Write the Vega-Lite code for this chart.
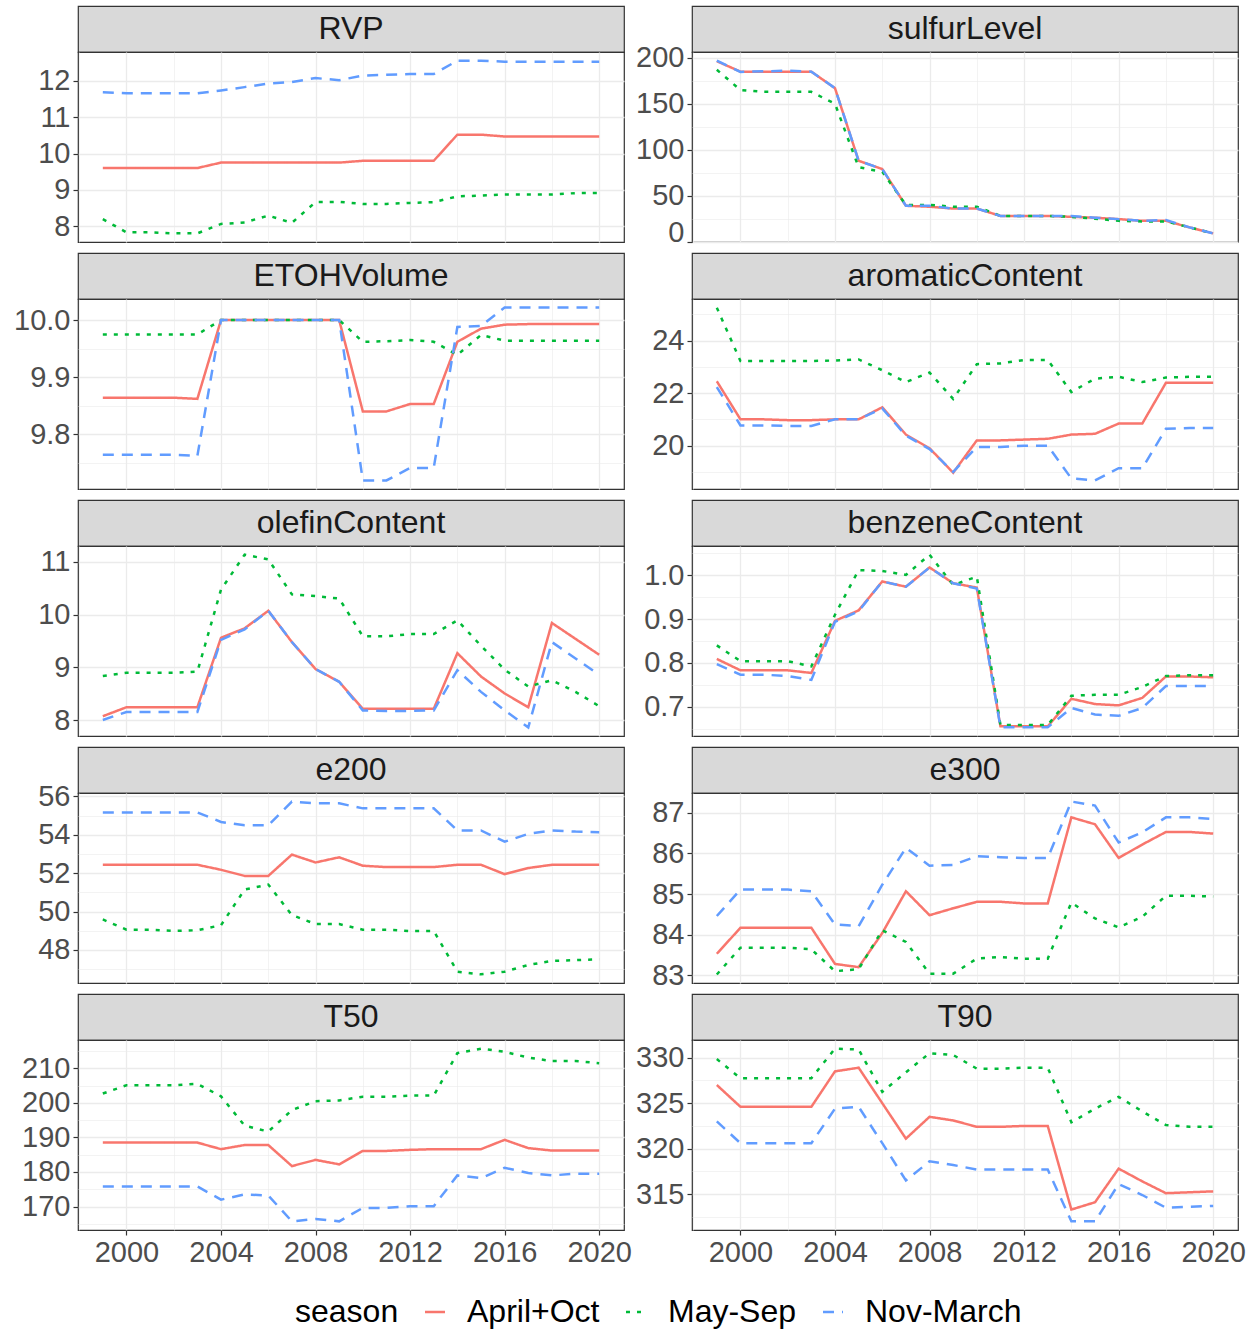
{
"$schema": "https://vega.github.io/schema/vega-lite/v6.json",
"padding": {"left": 12, "top": 5, "right": 10, "bottom": 5},
"background": "white",
"config": {
  "font": "Liberation Sans",
  "view": {"stroke": "#333333", "strokeWidth": 1.2},
  "axis": {"domain": false, "gridColor": "#ebebeb", "labelFontSize": 29, "labelColor": "#4d4d4d", "labelFont": "Liberation Sans", "tickSize": 5, "tickWidth": 1.2, "labelPadding": 3, "labelFlush": false, "labelOverlap": false},
  "axisY": {"minExtent": 65, "maxExtent": 65},
  "legend": {"orient": "none", "legendX": 217, "legendY": 1290, "direction": "horizontal", "titleOrient": "left", "titleFontSize": 32, "titleFontWeight": "normal", "titleColor": "#000000", "titleFont": "Liberation Sans", "labelFontSize": 32, "labelColor": "#000000", "labelFont": "Liberation Sans", "symbolType": "stroke", "symbolSize": 400, "symbolStrokeWidth": 2.5, "labelOffset": 16, "columnPadding": 20, "titlePadding": 20}
},
"datasets": {
"RVP": [
{"season":"April+Oct","year":1999,"value":9.6},{"season":"April+Oct","year":2000,"value":9.6},{"season":"April+Oct","year":2001,"value":9.6},{"season":"April+Oct","year":2002,"value":9.6},{"season":"April+Oct","year":2003,"value":9.6},{"season":"April+Oct","year":2004,"value":9.75},{"season":"April+Oct","year":2005,"value":9.75},{"season":"April+Oct","year":2006,"value":9.75},{"season":"April+Oct","year":2007,"value":9.75},{"season":"April+Oct","year":2008,"value":9.75},{"season":"April+Oct","year":2009,"value":9.75},{"season":"April+Oct","year":2010,"value":9.8},{"season":"April+Oct","year":2011,"value":9.8},{"season":"April+Oct","year":2012,"value":9.8},{"season":"April+Oct","year":2013,"value":9.8},{"season":"April+Oct","year":2014,"value":10.52},{"season":"April+Oct","year":2015,"value":10.52},{"season":"April+Oct","year":2016,"value":10.47},{"season":"April+Oct","year":2017,"value":10.47},{"season":"April+Oct","year":2018,"value":10.47},{"season":"April+Oct","year":2019,"value":10.47},{"season":"April+Oct","year":2020,"value":10.47},
{"season":"May-Sep","year":1999,"value":8.19},{"season":"May-Sep","year":2000,"value":7.83},{"season":"May-Sep","year":2001,"value":7.83},{"season":"May-Sep","year":2002,"value":7.8},{"season":"May-Sep","year":2003,"value":7.8},{"season":"May-Sep","year":2004,"value":8.06},{"season":"May-Sep","year":2005,"value":8.1},{"season":"May-Sep","year":2006,"value":8.29},{"season":"May-Sep","year":2007,"value":8.09},{"season":"May-Sep","year":2008,"value":8.66},{"season":"May-Sep","year":2009,"value":8.67},{"season":"May-Sep","year":2010,"value":8.61},{"season":"May-Sep","year":2011,"value":8.61},{"season":"May-Sep","year":2012,"value":8.64},{"season":"May-Sep","year":2013,"value":8.66},{"season":"May-Sep","year":2014,"value":8.82},{"season":"May-Sep","year":2015,"value":8.84},{"season":"May-Sep","year":2016,"value":8.87},{"season":"May-Sep","year":2017,"value":8.87},{"season":"May-Sep","year":2018,"value":8.87},{"season":"May-Sep","year":2019,"value":8.91},{"season":"May-Sep","year":2020,"value":8.91},
{"season":"Nov-March","year":1999,"value":11.69},{"season":"Nov-March","year":2000,"value":11.66},{"season":"Nov-March","year":2001,"value":11.66},{"season":"Nov-March","year":2002,"value":11.66},{"season":"Nov-March","year":2003,"value":11.66},{"season":"Nov-March","year":2004,"value":11.74},{"season":"Nov-March","year":2005,"value":11.83},{"season":"Nov-March","year":2006,"value":11.93},{"season":"Nov-March","year":2007,"value":11.97},{"season":"Nov-March","year":2008,"value":12.08},{"season":"Nov-March","year":2009,"value":12.02},{"season":"Nov-March","year":2010,"value":12.15},{"season":"Nov-March","year":2011,"value":12.17},{"season":"Nov-March","year":2012,"value":12.19},{"season":"Nov-March","year":2013,"value":12.19},{"season":"Nov-March","year":2014,"value":12.56},{"season":"Nov-March","year":2015,"value":12.56},{"season":"Nov-March","year":2016,"value":12.53},{"season":"Nov-March","year":2017,"value":12.53},{"season":"Nov-March","year":2018,"value":12.53},{"season":"Nov-March","year":2019,"value":12.53},{"season":"Nov-March","year":2020,"value":12.53}
],
"sulfurLevel": [
{"season":"April+Oct","year":1999,"value":196.4},{"season":"April+Oct","year":2000,"value":185},{"season":"April+Oct","year":2001,"value":185},{"season":"April+Oct","year":2002,"value":185},{"season":"April+Oct","year":2003,"value":185},{"season":"April+Oct","year":2004,"value":167},{"season":"April+Oct","year":2005,"value":88},{"season":"April+Oct","year":2006,"value":79},{"season":"April+Oct","year":2007,"value":39},{"season":"April+Oct","year":2008,"value":38},{"season":"April+Oct","year":2009,"value":36},{"season":"April+Oct","year":2010,"value":36},{"season":"April+Oct","year":2011,"value":28},{"season":"April+Oct","year":2012,"value":28},{"season":"April+Oct","year":2013,"value":28},{"season":"April+Oct","year":2014,"value":27},{"season":"April+Oct","year":2015,"value":26},{"season":"April+Oct","year":2016,"value":24.5},{"season":"April+Oct","year":2017,"value":22.6},{"season":"April+Oct","year":2018,"value":22.6},{"season":"April+Oct","year":2019,"value":15.5},{"season":"April+Oct","year":2020,"value":9},
{"season":"May-Sep","year":1999,"value":187},{"season":"May-Sep","year":2000,"value":165},{"season":"May-Sep","year":2001,"value":163},{"season":"May-Sep","year":2002,"value":163},{"season":"May-Sep","year":2003,"value":163},{"season":"May-Sep","year":2004,"value":150},{"season":"May-Sep","year":2005,"value":81},{"season":"May-Sep","year":2006,"value":76},{"season":"May-Sep","year":2007,"value":40},{"season":"May-Sep","year":2008,"value":40},{"season":"May-Sep","year":2009,"value":38},{"season":"May-Sep","year":2010,"value":38},{"season":"May-Sep","year":2011,"value":28},{"season":"May-Sep","year":2012,"value":28},{"season":"May-Sep","year":2013,"value":28},{"season":"May-Sep","year":2014,"value":27},{"season":"May-Sep","year":2015,"value":25},{"season":"May-Sep","year":2016,"value":22.6},{"season":"May-Sep","year":2017,"value":22},{"season":"May-Sep","year":2018,"value":22},{"season":"May-Sep","year":2019,"value":15.5},{"season":"May-Sep","year":2020,"value":9},
{"season":"Nov-March","year":1999,"value":197},{"season":"Nov-March","year":2000,"value":184.7},{"season":"Nov-March","year":2001,"value":185.4},{"season":"Nov-March","year":2002,"value":186},{"season":"Nov-March","year":2003,"value":185},{"season":"Nov-March","year":2004,"value":167},{"season":"Nov-March","year":2005,"value":88},{"season":"Nov-March","year":2006,"value":79},{"season":"Nov-March","year":2007,"value":39},{"season":"Nov-March","year":2008,"value":39},{"season":"Nov-March","year":2009,"value":36},{"season":"Nov-March","year":2010,"value":36},{"season":"Nov-March","year":2011,"value":28},{"season":"Nov-March","year":2012,"value":28},{"season":"Nov-March","year":2013,"value":28},{"season":"Nov-March","year":2014,"value":28},{"season":"Nov-March","year":2015,"value":26},{"season":"Nov-March","year":2016,"value":24.5},{"season":"Nov-March","year":2017,"value":22.6},{"season":"Nov-March","year":2018,"value":23.5},{"season":"Nov-March","year":2019,"value":15.5},{"season":"Nov-March","year":2020,"value":9}
],
"ETOHVolume": [
{"season":"April+Oct","year":1999,"value":9.864},{"season":"April+Oct","year":2000,"value":9.864},{"season":"April+Oct","year":2001,"value":9.864},{"season":"April+Oct","year":2002,"value":9.864},{"season":"April+Oct","year":2003,"value":9.862},{"season":"April+Oct","year":2004,"value":10},{"season":"April+Oct","year":2005,"value":10},{"season":"April+Oct","year":2006,"value":10},{"season":"April+Oct","year":2007,"value":10},{"season":"April+Oct","year":2008,"value":10},{"season":"April+Oct","year":2009,"value":10},{"season":"April+Oct","year":2010,"value":9.84},{"season":"April+Oct","year":2011,"value":9.84},{"season":"April+Oct","year":2012,"value":9.853},{"season":"April+Oct","year":2013,"value":9.853},{"season":"April+Oct","year":2014,"value":9.962},{"season":"April+Oct","year":2015,"value":9.985},{"season":"April+Oct","year":2016,"value":9.992},{"season":"April+Oct","year":2017,"value":9.993},{"season":"April+Oct","year":2018,"value":9.993},{"season":"April+Oct","year":2019,"value":9.993},{"season":"April+Oct","year":2020,"value":9.993},
{"season":"May-Sep","year":1999,"value":9.975},{"season":"May-Sep","year":2000,"value":9.975},{"season":"May-Sep","year":2001,"value":9.975},{"season":"May-Sep","year":2002,"value":9.975},{"season":"May-Sep","year":2003,"value":9.975},{"season":"May-Sep","year":2004,"value":10},{"season":"May-Sep","year":2005,"value":10},{"season":"May-Sep","year":2006,"value":10},{"season":"May-Sep","year":2007,"value":10},{"season":"May-Sep","year":2008,"value":10},{"season":"May-Sep","year":2009,"value":10},{"season":"May-Sep","year":2010,"value":9.962},{"season":"May-Sep","year":2011,"value":9.963},{"season":"May-Sep","year":2012,"value":9.965},{"season":"May-Sep","year":2013,"value":9.962},{"season":"May-Sep","year":2014,"value":9.939},{"season":"May-Sep","year":2015,"value":9.974},{"season":"May-Sep","year":2016,"value":9.964},{"season":"May-Sep","year":2017,"value":9.964},{"season":"May-Sep","year":2018,"value":9.964},{"season":"May-Sep","year":2019,"value":9.964},{"season":"May-Sep","year":2020,"value":9.964},
{"season":"Nov-March","year":1999,"value":9.764},{"season":"Nov-March","year":2000,"value":9.764},{"season":"Nov-March","year":2001,"value":9.764},{"season":"Nov-March","year":2002,"value":9.764},{"season":"Nov-March","year":2003,"value":9.762},{"season":"Nov-March","year":2004,"value":10},{"season":"Nov-March","year":2005,"value":10},{"season":"Nov-March","year":2006,"value":10},{"season":"Nov-March","year":2007,"value":10},{"season":"Nov-March","year":2008,"value":10},{"season":"Nov-March","year":2009,"value":10},{"season":"Nov-March","year":2010,"value":9.719},{"season":"Nov-March","year":2011,"value":9.719},{"season":"Nov-March","year":2012,"value":9.741},{"season":"Nov-March","year":2013,"value":9.741},{"season":"Nov-March","year":2014,"value":9.988},{"season":"Nov-March","year":2015,"value":9.99},{"season":"Nov-March","year":2016,"value":10.022},{"season":"Nov-March","year":2017,"value":10.022},{"season":"Nov-March","year":2018,"value":10.022},{"season":"Nov-March","year":2019,"value":10.022},{"season":"Nov-March","year":2020,"value":10.022}
],
"aromaticContent": [
{"season":"April+Oct","year":1999,"value":22.45},{"season":"April+Oct","year":2000,"value":21.0},{"season":"April+Oct","year":2001,"value":21.0},{"season":"April+Oct","year":2002,"value":20.97},{"season":"April+Oct","year":2003,"value":20.97},{"season":"April+Oct","year":2004,"value":21.0},{"season":"April+Oct","year":2005,"value":21.0},{"season":"April+Oct","year":2006,"value":21.46},{"season":"April+Oct","year":2007,"value":20.42},{"season":"April+Oct","year":2008,"value":19.9},{"season":"April+Oct","year":2009,"value":18.97},{"season":"April+Oct","year":2010,"value":20.2},{"season":"April+Oct","year":2011,"value":20.2},{"season":"April+Oct","year":2012,"value":20.23},{"season":"April+Oct","year":2013,"value":20.26},{"season":"April+Oct","year":2014,"value":20.42},{"season":"April+Oct","year":2015,"value":20.45},{"season":"April+Oct","year":2016,"value":20.84},{"season":"April+Oct","year":2017,"value":20.84},{"season":"April+Oct","year":2018,"value":22.39},{"season":"April+Oct","year":2019,"value":22.39},{"season":"April+Oct","year":2020,"value":22.39},
{"season":"May-Sep","year":1999,"value":25.25},{"season":"May-Sep","year":2000,"value":23.22},{"season":"May-Sep","year":2001,"value":23.22},{"season":"May-Sep","year":2002,"value":23.22},{"season":"May-Sep","year":2003,"value":23.22},{"season":"May-Sep","year":2004,"value":23.24},{"season":"May-Sep","year":2005,"value":23.28},{"season":"May-Sep","year":2006,"value":22.87},{"season":"May-Sep","year":2007,"value":22.42},{"season":"May-Sep","year":2008,"value":22.78},{"season":"May-Sep","year":2009,"value":21.78},{"season":"May-Sep","year":2010,"value":23.1},{"season":"May-Sep","year":2011,"value":23.13},{"season":"May-Sep","year":2012,"value":23.26},{"season":"May-Sep","year":2013,"value":23.26},{"season":"May-Sep","year":2014,"value":22.04},{"season":"May-Sep","year":2015,"value":22.55},{"season":"May-Sep","year":2016,"value":22.62},{"season":"May-Sep","year":2017,"value":22.42},{"season":"May-Sep","year":2018,"value":22.59},{"season":"May-Sep","year":2019,"value":22.62},{"season":"May-Sep","year":2020,"value":22.62},
{"season":"Nov-March","year":1999,"value":22.23},{"season":"Nov-March","year":2000,"value":20.77},{"season":"Nov-March","year":2001,"value":20.77},{"season":"Nov-March","year":2002,"value":20.75},{"season":"Nov-March","year":2003,"value":20.75},{"season":"Nov-March","year":2004,"value":21.0},{"season":"Nov-March","year":2005,"value":21.0},{"season":"Nov-March","year":2006,"value":21.42},{"season":"Nov-March","year":2007,"value":20.38},{"season":"Nov-March","year":2008,"value":19.87},{"season":"Nov-March","year":2009,"value":19.0},{"season":"Nov-March","year":2010,"value":19.95},{"season":"Nov-March","year":2011,"value":19.95},{"season":"Nov-March","year":2012,"value":20.0},{"season":"Nov-March","year":2013,"value":20.0},{"season":"Nov-March","year":2014,"value":18.75},{"season":"Nov-March","year":2015,"value":18.68},{"season":"Nov-March","year":2016,"value":19.14},{"season":"Nov-March","year":2017,"value":19.14},{"season":"Nov-March","year":2018,"value":20.64},{"season":"Nov-March","year":2019,"value":20.67},{"season":"Nov-March","year":2020,"value":20.67}
],
"olefinContent": [
{"season":"April+Oct","year":1999,"value":8.08},{"season":"April+Oct","year":2000,"value":8.25},{"season":"April+Oct","year":2001,"value":8.25},{"season":"April+Oct","year":2002,"value":8.25},{"season":"April+Oct","year":2003,"value":8.25},{"season":"April+Oct","year":2004,"value":9.56},{"season":"April+Oct","year":2005,"value":9.74},{"season":"April+Oct","year":2006,"value":10.07},{"season":"April+Oct","year":2007,"value":9.48},{"season":"April+Oct","year":2008,"value":8.97},{"season":"April+Oct","year":2009,"value":8.73},{"season":"April+Oct","year":2010,"value":8.22},{"season":"April+Oct","year":2011,"value":8.22},{"season":"April+Oct","year":2012,"value":8.22},{"season":"April+Oct","year":2013,"value":8.22},{"season":"April+Oct","year":2014,"value":9.27},{"season":"April+Oct","year":2015,"value":8.83},{"season":"April+Oct","year":2016,"value":8.51},{"season":"April+Oct","year":2017,"value":8.25},{"season":"April+Oct","year":2018,"value":9.84},{"season":"April+Oct","year":2019,"value":9.54},{"season":"April+Oct","year":2020,"value":9.24},
{"season":"May-Sep","year":1999,"value":8.84},{"season":"May-Sep","year":2000,"value":8.9},{"season":"May-Sep","year":2001,"value":8.9},{"season":"May-Sep","year":2002,"value":8.9},{"season":"May-Sep","year":2003,"value":8.92},{"season":"May-Sep","year":2004,"value":10.47},{"season":"May-Sep","year":2005,"value":11.13},{"season":"May-Sep","year":2006,"value":11.04},{"season":"May-Sep","year":2007,"value":10.38},{"season":"May-Sep","year":2008,"value":10.35},{"season":"May-Sep","year":2009,"value":10.3},{"season":"May-Sep","year":2010,"value":9.59},{"season":"May-Sep","year":2011,"value":9.59},{"season":"May-Sep","year":2012,"value":9.63},{"season":"May-Sep","year":2013,"value":9.63},{"season":"May-Sep","year":2014,"value":9.89},{"season":"May-Sep","year":2015,"value":9.41},{"season":"May-Sep","year":2016,"value":8.96},{"season":"May-Sep","year":2017,"value":8.64},{"season":"May-Sep","year":2018,"value":8.76},{"season":"May-Sep","year":2019,"value":8.54},{"season":"May-Sep","year":2020,"value":8.27},
{"season":"Nov-March","year":1999,"value":8.01},{"season":"Nov-March","year":2000,"value":8.16},{"season":"Nov-March","year":2001,"value":8.16},{"season":"Nov-March","year":2002,"value":8.16},{"season":"Nov-March","year":2003,"value":8.16},{"season":"Nov-March","year":2004,"value":9.52},{"season":"Nov-March","year":2005,"value":9.72},{"season":"Nov-March","year":2006,"value":10.07},{"season":"Nov-March","year":2007,"value":9.48},{"season":"Nov-March","year":2008,"value":8.97},{"season":"Nov-March","year":2009,"value":8.73},{"season":"Nov-March","year":2010,"value":8.19},{"season":"Nov-March","year":2011,"value":8.18},{"season":"Nov-March","year":2012,"value":8.18},{"season":"Nov-March","year":2013,"value":8.19},{"season":"Nov-March","year":2014,"value":8.95},{"season":"Nov-March","year":2015,"value":8.54},{"season":"Nov-March","year":2016,"value":8.19},{"season":"Nov-March","year":2017,"value":7.87},{"season":"Nov-March","year":2018,"value":9.48},{"season":"Nov-March","year":2019,"value":9.17},{"season":"Nov-March","year":2020,"value":8.86}
],
"benzeneContent": [
{"season":"April+Oct","year":1999,"value":0.809},{"season":"April+Oct","year":2000,"value":0.783},{"season":"April+Oct","year":2001,"value":0.783},{"season":"April+Oct","year":2002,"value":0.783},{"season":"April+Oct","year":2003,"value":0.777},{"season":"April+Oct","year":2004,"value":0.896},{"season":"April+Oct","year":2005,"value":0.92},{"season":"April+Oct","year":2006,"value":0.986},{"season":"April+Oct","year":2007,"value":0.974},{"season":"April+Oct","year":2008,"value":1.018},{"season":"April+Oct","year":2009,"value":0.982},{"season":"April+Oct","year":2010,"value":0.972},{"season":"April+Oct","year":2011,"value":0.655},{"season":"April+Oct","year":2012,"value":0.655},{"season":"April+Oct","year":2013,"value":0.655},{"season":"April+Oct","year":2014,"value":0.718},{"season":"April+Oct","year":2015,"value":0.706},{"season":"April+Oct","year":2016,"value":0.703},{"season":"April+Oct","year":2017,"value":0.72},{"season":"April+Oct","year":2018,"value":0.769},{"season":"April+Oct","year":2019,"value":0.769},{"season":"April+Oct","year":2020,"value":0.767},
{"season":"May-Sep","year":1999,"value":0.84},{"season":"May-Sep","year":2000,"value":0.804},{"season":"May-Sep","year":2001,"value":0.804},{"season":"May-Sep","year":2002,"value":0.804},{"season":"May-Sep","year":2003,"value":0.792},{"season":"May-Sep","year":2004,"value":0.91},{"season":"May-Sep","year":2005,"value":1.012},{"season":"May-Sep","year":2006,"value":1.01},{"season":"May-Sep","year":2007,"value":1.001},{"season":"May-Sep","year":2008,"value":1.047},{"season":"May-Sep","year":2009,"value":0.978},{"season":"May-Sep","year":2010,"value":0.997},{"season":"May-Sep","year":2011,"value":0.658},{"season":"May-Sep","year":2012,"value":0.658},{"season":"May-Sep","year":2013,"value":0.658},{"season":"May-Sep","year":2014,"value":0.725},{"season":"May-Sep","year":2015,"value":0.727},{"season":"May-Sep","year":2016,"value":0.727},{"season":"May-Sep","year":2017,"value":0.745},{"season":"May-Sep","year":2018,"value":0.77},{"season":"May-Sep","year":2019,"value":0.772},{"season":"May-Sep","year":2020,"value":0.772},
{"season":"Nov-March","year":1999,"value":0.797},{"season":"Nov-March","year":2000,"value":0.773},{"season":"Nov-March","year":2001,"value":0.773},{"season":"Nov-March","year":2002,"value":0.77},{"season":"Nov-March","year":2003,"value":0.761},{"season":"Nov-March","year":2004,"value":0.894},{"season":"Nov-March","year":2005,"value":0.918},{"season":"Nov-March","year":2006,"value":0.986},{"season":"Nov-March","year":2007,"value":0.974},{"season":"Nov-March","year":2008,"value":1.018},{"season":"Nov-March","year":2009,"value":0.982},{"season":"Nov-March","year":2010,"value":0.97},{"season":"Nov-March","year":2011,"value":0.653},{"season":"Nov-March","year":2012,"value":0.653},{"season":"Nov-March","year":2013,"value":0.653},{"season":"Nov-March","year":2014,"value":0.697},{"season":"Nov-March","year":2015,"value":0.682},{"season":"Nov-March","year":2016,"value":0.679},{"season":"Nov-March","year":2017,"value":0.697},{"season":"Nov-March","year":2018,"value":0.747},{"season":"Nov-March","year":2019,"value":0.747},{"season":"Nov-March","year":2020,"value":0.747}
],
"e200": [
{"season":"April+Oct","year":1999,"value":52.44},{"season":"April+Oct","year":2000,"value":52.44},{"season":"April+Oct","year":2001,"value":52.44},{"season":"April+Oct","year":2002,"value":52.44},{"season":"April+Oct","year":2003,"value":52.44},{"season":"April+Oct","year":2004,"value":52.18},{"season":"April+Oct","year":2005,"value":51.86},{"season":"April+Oct","year":2006,"value":51.86},{"season":"April+Oct","year":2007,"value":52.97},{"season":"April+Oct","year":2008,"value":52.56},{"season":"April+Oct","year":2009,"value":52.83},{"season":"April+Oct","year":2010,"value":52.39},{"season":"April+Oct","year":2011,"value":52.32},{"season":"April+Oct","year":2012,"value":52.32},{"season":"April+Oct","year":2013,"value":52.32},{"season":"April+Oct","year":2014,"value":52.44},{"season":"April+Oct","year":2015,"value":52.44},{"season":"April+Oct","year":2016,"value":51.95},{"season":"April+Oct","year":2017,"value":52.27},{"season":"April+Oct","year":2018,"value":52.44},{"season":"April+Oct","year":2019,"value":52.44},{"season":"April+Oct","year":2020,"value":52.44},
{"season":"May-Sep","year":1999,"value":49.59},{"season":"May-Sep","year":2000,"value":49.06},{"season":"May-Sep","year":2001,"value":49.06},{"season":"May-Sep","year":2002,"value":48.99},{"season":"May-Sep","year":2003,"value":49.03},{"season":"May-Sep","year":2004,"value":49.29},{"season":"May-Sep","year":2005,"value":51.15},{"season":"May-Sep","year":2006,"value":51.41},{"season":"May-Sep","year":2007,"value":49.82},{"season":"May-Sep","year":2008,"value":49.35},{"season":"May-Sep","year":2009,"value":49.35},{"season":"May-Sep","year":2010,"value":49.06},{"season":"May-Sep","year":2011,"value":49.06},{"season":"May-Sep","year":2012,"value":48.99},{"season":"May-Sep","year":2013,"value":48.99},{"season":"May-Sep","year":2014,"value":46.87},{"season":"May-Sep","year":2015,"value":46.73},{"season":"May-Sep","year":2016,"value":46.87},{"season":"May-Sep","year":2017,"value":47.22},{"season":"May-Sep","year":2018,"value":47.43},{"season":"May-Sep","year":2019,"value":47.47},{"season":"May-Sep","year":2020,"value":47.52},
{"season":"Nov-March","year":1999,"value":55.17},{"season":"Nov-March","year":2000,"value":55.17},{"season":"Nov-March","year":2001,"value":55.17},{"season":"Nov-March","year":2002,"value":55.17},{"season":"Nov-March","year":2003,"value":55.17},{"season":"Nov-March","year":2004,"value":54.67},{"season":"Nov-March","year":2005,"value":54.5},{"season":"Nov-March","year":2006,"value":54.5},{"season":"Nov-March","year":2007,"value":55.73},{"season":"Nov-March","year":2008,"value":55.64},{"season":"Nov-March","year":2009,"value":55.64},{"season":"Nov-March","year":2010,"value":55.38},{"season":"Nov-March","year":2011,"value":55.38},{"season":"Nov-March","year":2012,"value":55.38},{"season":"Nov-March","year":2013,"value":55.38},{"season":"Nov-March","year":2014,"value":54.23},{"season":"Nov-March","year":2015,"value":54.23},{"season":"Nov-March","year":2016,"value":53.64},{"season":"Nov-March","year":2017,"value":54.05},{"season":"Nov-March","year":2018,"value":54.23},{"season":"Nov-March","year":2019,"value":54.17},{"season":"Nov-March","year":2020,"value":54.14}
],
"e300": [
{"season":"April+Oct","year":1999,"value":83.53},{"season":"April+Oct","year":2000,"value":84.17},{"season":"April+Oct","year":2001,"value":84.17},{"season":"April+Oct","year":2002,"value":84.17},{"season":"April+Oct","year":2003,"value":84.17},{"season":"April+Oct","year":2004,"value":83.28},{"season":"April+Oct","year":2005,"value":83.2},{"season":"April+Oct","year":2006,"value":84.04},{"season":"April+Oct","year":2007,"value":85.07},{"season":"April+Oct","year":2008,"value":84.48},{"season":"April+Oct","year":2009,"value":84.65},{"season":"April+Oct","year":2010,"value":84.81},{"season":"April+Oct","year":2011,"value":84.81},{"season":"April+Oct","year":2012,"value":84.77},{"season":"April+Oct","year":2013,"value":84.77},{"season":"April+Oct","year":2014,"value":86.89},{"season":"April+Oct","year":2015,"value":86.72},{"season":"April+Oct","year":2016,"value":85.89},{"season":"April+Oct","year":2017,"value":86.22},{"season":"April+Oct","year":2018,"value":86.53},{"season":"April+Oct","year":2019,"value":86.53},{"season":"April+Oct","year":2020,"value":86.49},
{"season":"May-Sep","year":1999,"value":83.02},{"season":"May-Sep","year":2000,"value":83.68},{"season":"May-Sep","year":2001,"value":83.68},{"season":"May-Sep","year":2002,"value":83.68},{"season":"May-Sep","year":2003,"value":83.64},{"season":"May-Sep","year":2004,"value":83.1},{"season":"May-Sep","year":2005,"value":83.15},{"season":"May-Sep","year":2006,"value":84.11},{"season":"May-Sep","year":2007,"value":83.82},{"season":"May-Sep","year":2008,"value":83.04},{"season":"May-Sep","year":2009,"value":83.04},{"season":"May-Sep","year":2010,"value":83.41},{"season":"May-Sep","year":2011,"value":83.45},{"season":"May-Sep","year":2012,"value":83.41},{"season":"May-Sep","year":2013,"value":83.41},{"season":"May-Sep","year":2014,"value":84.79},{"season":"May-Sep","year":2015,"value":84.4},{"season":"May-Sep","year":2016,"value":84.18},{"season":"May-Sep","year":2017,"value":84.44},{"season":"May-Sep","year":2018,"value":84.96},{"season":"May-Sep","year":2019,"value":84.96},{"season":"May-Sep","year":2020,"value":84.94},
{"season":"Nov-March","year":1999,"value":84.46},{"season":"Nov-March","year":2000,"value":85.11},{"season":"Nov-March","year":2001,"value":85.11},{"season":"Nov-March","year":2002,"value":85.11},{"season":"Nov-March","year":2003,"value":85.07},{"season":"Nov-March","year":2004,"value":84.25},{"season":"Nov-March","year":2005,"value":84.21},{"season":"Nov-March","year":2006,"value":85.23},{"season":"Nov-March","year":2007,"value":86.14},{"season":"Nov-March","year":2008,"value":85.7},{"season":"Nov-March","year":2009,"value":85.72},{"season":"Nov-March","year":2010,"value":85.93},{"season":"Nov-March","year":2011,"value":85.91},{"season":"Nov-March","year":2012,"value":85.89},{"season":"Nov-March","year":2013,"value":85.89},{"season":"Nov-March","year":2014,"value":87.28},{"season":"Nov-March","year":2015,"value":87.18},{"season":"Nov-March","year":2016,"value":86.27},{"season":"Nov-March","year":2017,"value":86.52},{"season":"Nov-March","year":2018,"value":86.89},{"season":"Nov-March","year":2019,"value":86.89},{"season":"Nov-March","year":2020,"value":86.85}
],
"T50": [
{"season":"April+Oct","year":1999,"value":188.5},{"season":"April+Oct","year":2000,"value":188.5},{"season":"April+Oct","year":2001,"value":188.5},{"season":"April+Oct","year":2002,"value":188.5},{"season":"April+Oct","year":2003,"value":188.5},{"season":"April+Oct","year":2004,"value":186.6},{"season":"April+Oct","year":2005,"value":187.8},{"season":"April+Oct","year":2006,"value":187.8},{"season":"April+Oct","year":2007,"value":181.7},{"season":"April+Oct","year":2008,"value":183.5},{"season":"April+Oct","year":2009,"value":182.2},{"season":"April+Oct","year":2010,"value":186.1},{"season":"April+Oct","year":2011,"value":186.1},{"season":"April+Oct","year":2012,"value":186.4},{"season":"April+Oct","year":2013,"value":186.6},{"season":"April+Oct","year":2014,"value":186.6},{"season":"April+Oct","year":2015,"value":186.6},{"season":"April+Oct","year":2016,"value":189.3},{"season":"April+Oct","year":2017,"value":186.9},{"season":"April+Oct","year":2018,"value":186.2},{"season":"April+Oct","year":2019,"value":186.2},{"season":"April+Oct","year":2020,"value":186.2},
{"season":"May-Sep","year":1999,"value":202.7},{"season":"May-Sep","year":2000,"value":205.1},{"season":"May-Sep","year":2001,"value":205.1},{"season":"May-Sep","year":2002,"value":205.1},{"season":"May-Sep","year":2003,"value":205.5},{"season":"May-Sep","year":2004,"value":201.9},{"season":"May-Sep","year":2005,"value":193.4},{"season":"May-Sep","year":2006,"value":191.7},{"season":"May-Sep","year":2007,"value":197.9},{"season":"May-Sep","year":2008,"value":200.5},{"season":"May-Sep","year":2009,"value":200.7},{"season":"May-Sep","year":2010,"value":201.8},{"season":"May-Sep","year":2011,"value":201.8},{"season":"May-Sep","year":2012,"value":202.1},{"season":"May-Sep","year":2013,"value":202.1},{"season":"May-Sep","year":2014,"value":214.4},{"season":"May-Sep","year":2015,"value":215.7},{"season":"May-Sep","year":2016,"value":214.8},{"season":"May-Sep","year":2017,"value":213.1},{"season":"May-Sep","year":2018,"value":212.1},{"season":"May-Sep","year":2019,"value":212.1},{"season":"May-Sep","year":2020,"value":211.5},
{"season":"Nov-March","year":1999,"value":175.8},{"season":"Nov-March","year":2000,"value":175.8},{"season":"Nov-March","year":2001,"value":175.8},{"season":"Nov-March","year":2002,"value":175.8},{"season":"Nov-March","year":2003,"value":175.8},{"season":"Nov-March","year":2004,"value":172.0},{"season":"Nov-March","year":2005,"value":173.5},{"season":"Nov-March","year":2006,"value":173.2},{"season":"Nov-March","year":2007,"value":165.7},{"season":"Nov-March","year":2008,"value":166.4},{"season":"Nov-March","year":2009,"value":165.7},{"season":"Nov-March","year":2010,"value":169.6},{"season":"Nov-March","year":2011,"value":169.6},{"season":"Nov-March","year":2012,"value":170.1},{"season":"Nov-March","year":2013,"value":170.1},{"season":"Nov-March","year":2014,"value":179.0},{"season":"Nov-March","year":2015,"value":178.2},{"season":"Nov-March","year":2016,"value":181.2},{"season":"Nov-March","year":2017,"value":179.7},{"season":"Nov-March","year":2018,"value":179.0},{"season":"Nov-March","year":2019,"value":179.5},{"season":"Nov-March","year":2020,"value":179.5}
],
"T90": [
{"season":"April+Oct","year":1999,"value":327.0},{"season":"April+Oct","year":2000,"value":324.6},{"season":"April+Oct","year":2001,"value":324.6},{"season":"April+Oct","year":2002,"value":324.6},{"season":"April+Oct","year":2003,"value":324.6},{"season":"April+Oct","year":2004,"value":328.5},{"season":"April+Oct","year":2005,"value":328.9},{"season":"April+Oct","year":2006,"value":325.0},{"season":"April+Oct","year":2007,"value":321.1},{"season":"April+Oct","year":2008,"value":323.5},{"season":"April+Oct","year":2009,"value":323.1},{"season":"April+Oct","year":2010,"value":322.4},{"season":"April+Oct","year":2011,"value":322.4},{"season":"April+Oct","year":2012,"value":322.5},{"season":"April+Oct","year":2013,"value":322.5},{"season":"April+Oct","year":2014,"value":313.3},{"season":"April+Oct","year":2015,"value":314.1},{"season":"April+Oct","year":2016,"value":317.8},{"season":"April+Oct","year":2017,"value":316.4},{"season":"April+Oct","year":2018,"value":315.1},{"season":"April+Oct","year":2019,"value":315.2},{"season":"April+Oct","year":2020,"value":315.3},
{"season":"May-Sep","year":1999,"value":329.85},{"season":"May-Sep","year":2000,"value":327.75},{"season":"May-Sep","year":2001,"value":327.75},{"season":"May-Sep","year":2002,"value":327.75},{"season":"May-Sep","year":2003,"value":327.75},{"season":"May-Sep","year":2004,"value":331.0},{"season":"May-Sep","year":2005,"value":330.9},{"season":"May-Sep","year":2006,"value":326.25},{"season":"May-Sep","year":2007,"value":328.4},{"season":"May-Sep","year":2008,"value":330.5},{"season":"May-Sep","year":2009,"value":330.3},{"season":"May-Sep","year":2010,"value":328.8},{"season":"May-Sep","year":2011,"value":328.8},{"season":"May-Sep","year":2012,"value":328.9},{"season":"May-Sep","year":2013,"value":328.9},{"season":"May-Sep","year":2014,"value":322.9},{"season":"May-Sep","year":2015,"value":324.4},{"season":"May-Sep","year":2016,"value":325.7},{"season":"May-Sep","year":2017,"value":324.1},{"season":"May-Sep","year":2018,"value":322.6},{"season":"May-Sep","year":2019,"value":322.4},{"season":"May-Sep","year":2020,"value":322.4},
{"season":"Nov-March","year":1999,"value":323.0},{"season":"Nov-March","year":2000,"value":320.6},{"season":"Nov-March","year":2001,"value":320.6},{"season":"Nov-March","year":2002,"value":320.6},{"season":"Nov-March","year":2003,"value":320.6},{"season":"Nov-March","year":2004,"value":324.4},{"season":"Nov-March","year":2005,"value":324.6},{"season":"Nov-March","year":2006,"value":320.6},{"season":"Nov-March","year":2007,"value":316.5},{"season":"Nov-March","year":2008,"value":318.6},{"season":"Nov-March","year":2009,"value":318.2},{"season":"Nov-March","year":2010,"value":317.7},{"season":"Nov-March","year":2011,"value":317.7},{"season":"Nov-March","year":2012,"value":317.7},{"season":"Nov-March","year":2013,"value":317.7},{"season":"Nov-March","year":2014,"value":312.0},{"season":"Nov-March","year":2015,"value":312.0},{"season":"Nov-March","year":2016,"value":316.1},{"season":"Nov-March","year":2017,"value":314.9},{"season":"Nov-March","year":2018,"value":313.5},{"season":"Nov-March","year":2019,"value":313.6},{"season":"Nov-March","year":2020,"value":313.7}
]
},
"columns": 2,
"align": {"row": "each", "column": "all"},
"spacing": {"row": 1, "column": 0},
"concat": [
{"bounds":"flush","spacing":0,"vconcat":[
 {"width":546,"height":46,"data":{"values":[{"panel":"RVP"}]},"view":{"fill":"#d9d9d9","stroke":"#333333","strokeWidth":1.2},"mark":{"type":"text","fontSize":32,"color":"#1a1a1a"},"encoding":{"text":{"field":"panel","type":"nominal"}}},
 {"width":546,"height":190,"data":{"name":"RVP"},"mark":{"type":"line","strokeWidth":2.5},"encoding":{
  "x":{"field":"year","type":"quantitative","scale":{"domain":[1997.95,2021.05],"nice":false,"zero":false},"axis":{"title":null,"minExtent":8,"maxExtent":8,"values":[1998,2000,2002,2004,2006,2008,2010,2012,2014,2016,2018,2020],"labels":false,"ticks":false,"gridWidth":{"condition":{"test":"datum.value % 4 == 0","value":1.3},"value":0.6}}},
  "y":{"field":"value","type":"quantitative","scale":{"domain":[7.562,12.798],"nice":false,"zero":false},"axis":{"title":null,"format":"d","values":[8,8.5,9,9.5,10,10.5,11,11.5,12,12.5],"labelExpr":"datum.value % 1 == 0 ? datum.label : ''","labelFontSize":{"condition":{"test":"datum.value % 1 == 0","value":29},"value":0},"tickColor":{"condition":{"test":"datum.value % 1 == 0","value":"#333333"},"value":"transparent"},"gridWidth":{"condition":{"test":"datum.value % 1 == 0","value":1.3},"value":0.6}}},
  "color":{"field":"season","type":"nominal","scale":{"domain":["April+Oct","May-Sep","Nov-March"],"range":["#F8766D","#00BA38","#619CFF"]},"legend":{"title":"season"}},
  "strokeDash":{"field":"season","type":"nominal","scale":{"domain":["April+Oct","May-Sep","Nov-March"],"range":[[1,0],[4,7],[11,8]]},"legend":{"title":"season"}}}}
]},
{"bounds":"flush","spacing":0,"vconcat":[
 {"width":546,"height":46,"data":{"values":[{"panel":"sulfurLevel"}]},"view":{"fill":"#d9d9d9","stroke":"#333333","strokeWidth":1.2},"mark":{"type":"text","fontSize":32,"color":"#1a1a1a"},"encoding":{"text":{"field":"panel","type":"nominal"}}},
 {"width":546,"height":190,"data":{"name":"sulfurLevel"},"mark":{"type":"line","strokeWidth":2.5},"encoding":{
  "x":{"field":"year","type":"quantitative","scale":{"domain":[1997.95,2021.05],"nice":false,"zero":false},"axis":{"title":null,"minExtent":8,"maxExtent":8,"values":[1998,2000,2002,2004,2006,2008,2010,2012,2014,2016,2018,2020],"labels":false,"ticks":false,"gridWidth":{"condition":{"test":"datum.value % 4 == 0","value":1.3},"value":0.6}}},
  "y":{"field":"value","type":"quantitative","scale":{"domain":[-0.4,206.4],"nice":false,"zero":false},"axis":{"title":null,"format":"d","minExtent":58,"maxExtent":58,"values":[0,25,50,75,100,125,150,175,200],"labelExpr":"datum.value % 50 == 0 ? datum.label : ''","labelBaseline":{"condition":{"test":"datum.value == 0","value":"alphabetic"},"value":"middle"},"labelFontSize":{"condition":{"test":"datum.value % 50 == 0","value":29},"value":0},"tickColor":{"condition":{"test":"datum.value % 50 == 0","value":"#333333"},"value":"transparent"},"gridWidth":{"condition":{"test":"datum.value % 50 == 0","value":1.3},"value":0.6}}},
  "color":{"field":"season","type":"nominal","scale":{"domain":["April+Oct","May-Sep","Nov-March"],"range":["#F8766D","#00BA38","#619CFF"]},"legend":{"title":"season"}},
  "strokeDash":{"field":"season","type":"nominal","scale":{"domain":["April+Oct","May-Sep","Nov-March"],"range":[[1,0],[4,7],[11,8]]},"legend":{"title":"season"}}}}
]},
{"bounds":"flush","spacing":0,"vconcat":[
 {"width":546,"height":46,"data":{"values":[{"panel":"ETOHVolume"}]},"view":{"fill":"#d9d9d9","stroke":"#333333","strokeWidth":1.2},"mark":{"type":"text","fontSize":32,"color":"#1a1a1a"},"encoding":{"text":{"field":"panel","type":"nominal"}}},
 {"width":546,"height":190,"data":{"name":"ETOHVolume"},"mark":{"type":"line","strokeWidth":2.5},"encoding":{
  "x":{"field":"year","type":"quantitative","scale":{"domain":[1997.95,2021.05],"nice":false,"zero":false},"axis":{"title":null,"minExtent":8,"maxExtent":8,"values":[1998,2000,2002,2004,2006,2008,2010,2012,2014,2016,2018,2020],"labels":false,"ticks":false,"gridWidth":{"condition":{"test":"datum.value % 4 == 0","value":1.3},"value":0.6}}},
  "y":{"field":"value","type":"quantitative","scale":{"domain":[9.704,10.037],"nice":false,"zero":false},"axis":{"title":null,"format":".1f","values":[9.75,9.8,9.85,9.9,9.95,10],"labelExpr":"abs(datum.value*10 - round(datum.value*10)) < 0.001 ? datum.label : ''","labelFontSize":{"condition":{"test":"abs(datum.value*10 - round(datum.value*10)) < 0.001","value":29},"value":0},"tickColor":{"condition":{"test":"abs(datum.value*10 - round(datum.value*10)) < 0.001","value":"#333333"},"value":"transparent"},"gridWidth":{"condition":{"test":"abs(datum.value*10 - round(datum.value*10)) < 0.001","value":1.3},"value":0.6}}},
  "color":{"field":"season","type":"nominal","scale":{"domain":["April+Oct","May-Sep","Nov-March"],"range":["#F8766D","#00BA38","#619CFF"]},"legend":{"title":"season"}},
  "strokeDash":{"field":"season","type":"nominal","scale":{"domain":["April+Oct","May-Sep","Nov-March"],"range":[[1,0],[4,7],[11,8]]},"legend":{"title":"season"}}}}
]},
{"bounds":"flush","spacing":0,"vconcat":[
 {"width":546,"height":46,"data":{"values":[{"panel":"aromaticContent"}]},"view":{"fill":"#d9d9d9","stroke":"#333333","strokeWidth":1.2},"mark":{"type":"text","fontSize":32,"color":"#1a1a1a"},"encoding":{"text":{"field":"panel","type":"nominal"}}},
 {"width":546,"height":190,"data":{"name":"aromaticContent"},"mark":{"type":"line","strokeWidth":2.5},"encoding":{
  "x":{"field":"year","type":"quantitative","scale":{"domain":[1997.95,2021.05],"nice":false,"zero":false},"axis":{"title":null,"minExtent":8,"maxExtent":8,"values":[1998,2000,2002,2004,2006,2008,2010,2012,2014,2016,2018,2020],"labels":false,"ticks":false,"gridWidth":{"condition":{"test":"datum.value % 4 == 0","value":1.3},"value":0.6}}},
  "y":{"field":"value","type":"quantitative","scale":{"domain":[18.35,25.58],"nice":false,"zero":false},"axis":{"title":null,"format":"d","minExtent":58,"maxExtent":58,"values":[19,20,21,22,23,24,25],"labelExpr":"datum.value % 2 == 0 ? datum.label : ''","labelFontSize":{"condition":{"test":"datum.value % 2 == 0","value":29},"value":0},"tickColor":{"condition":{"test":"datum.value % 2 == 0","value":"#333333"},"value":"transparent"},"gridWidth":{"condition":{"test":"datum.value % 2 == 0","value":1.3},"value":0.6}}},
  "color":{"field":"season","type":"nominal","scale":{"domain":["April+Oct","May-Sep","Nov-March"],"range":["#F8766D","#00BA38","#619CFF"]},"legend":{"title":"season"}},
  "strokeDash":{"field":"season","type":"nominal","scale":{"domain":["April+Oct","May-Sep","Nov-March"],"range":[[1,0],[4,7],[11,8]]},"legend":{"title":"season"}}}}
]},
{"bounds":"flush","spacing":0,"vconcat":[
 {"width":546,"height":46,"data":{"values":[{"panel":"olefinContent"}]},"view":{"fill":"#d9d9d9","stroke":"#333333","strokeWidth":1.2},"mark":{"type":"text","fontSize":32,"color":"#1a1a1a"},"encoding":{"text":{"field":"panel","type":"nominal"}}},
 {"width":546,"height":190,"data":{"name":"olefinContent"},"mark":{"type":"line","strokeWidth":2.5},"encoding":{
  "x":{"field":"year","type":"quantitative","scale":{"domain":[1997.95,2021.05],"nice":false,"zero":false},"axis":{"title":null,"minExtent":8,"maxExtent":8,"values":[1998,2000,2002,2004,2006,2008,2010,2012,2014,2016,2018,2020],"labels":false,"ticks":false,"gridWidth":{"condition":{"test":"datum.value % 4 == 0","value":1.3},"value":0.6}}},
  "y":{"field":"value","type":"quantitative","scale":{"domain":[7.707,11.293],"nice":false,"zero":false},"axis":{"title":null,"format":"d","values":[8,8.5,9,9.5,10,10.5,11],"labelExpr":"datum.value % 1 == 0 ? datum.label : ''","labelFontSize":{"condition":{"test":"datum.value % 1 == 0","value":29},"value":0},"tickColor":{"condition":{"test":"datum.value % 1 == 0","value":"#333333"},"value":"transparent"},"gridWidth":{"condition":{"test":"datum.value % 1 == 0","value":1.3},"value":0.6}}},
  "color":{"field":"season","type":"nominal","scale":{"domain":["April+Oct","May-Sep","Nov-March"],"range":["#F8766D","#00BA38","#619CFF"]},"legend":{"title":"season"}},
  "strokeDash":{"field":"season","type":"nominal","scale":{"domain":["April+Oct","May-Sep","Nov-March"],"range":[[1,0],[4,7],[11,8]]},"legend":{"title":"season"}}}}
]},
{"bounds":"flush","spacing":0,"vconcat":[
 {"width":546,"height":46,"data":{"values":[{"panel":"benzeneContent"}]},"view":{"fill":"#d9d9d9","stroke":"#333333","strokeWidth":1.2},"mark":{"type":"text","fontSize":32,"color":"#1a1a1a"},"encoding":{"text":{"field":"panel","type":"nominal"}}},
 {"width":546,"height":190,"data":{"name":"benzeneContent"},"mark":{"type":"line","strokeWidth":2.5},"encoding":{
  "x":{"field":"year","type":"quantitative","scale":{"domain":[1997.95,2021.05],"nice":false,"zero":false},"axis":{"title":null,"minExtent":8,"maxExtent":8,"values":[1998,2000,2002,2004,2006,2008,2010,2012,2014,2016,2018,2020],"labels":false,"ticks":false,"gridWidth":{"condition":{"test":"datum.value % 4 == 0","value":1.3},"value":0.6}}},
  "y":{"field":"value","type":"quantitative","scale":{"domain":[0.633,1.067],"nice":false,"zero":false},"axis":{"title":null,"format":".1f","minExtent":58,"maxExtent":58,"values":[0.65,0.7,0.75,0.8,0.85,0.9,0.95,1,1.05],"labelExpr":"abs(datum.value*10 - round(datum.value*10)) < 0.001 ? datum.label : ''","labelFontSize":{"condition":{"test":"abs(datum.value*10 - round(datum.value*10)) < 0.001","value":29},"value":0},"tickColor":{"condition":{"test":"abs(datum.value*10 - round(datum.value*10)) < 0.001","value":"#333333"},"value":"transparent"},"gridWidth":{"condition":{"test":"abs(datum.value*10 - round(datum.value*10)) < 0.001","value":1.3},"value":0.6}}},
  "color":{"field":"season","type":"nominal","scale":{"domain":["April+Oct","May-Sep","Nov-March"],"range":["#F8766D","#00BA38","#619CFF"]},"legend":{"title":"season"}},
  "strokeDash":{"field":"season","type":"nominal","scale":{"domain":["April+Oct","May-Sep","Nov-March"],"range":[[1,0],[4,7],[11,8]]},"legend":{"title":"season"}}}}
]},
{"bounds":"flush","spacing":0,"vconcat":[
 {"width":546,"height":46,"data":{"values":[{"panel":"e200"}]},"view":{"fill":"#d9d9d9","stroke":"#333333","strokeWidth":1.2},"mark":{"type":"text","fontSize":32,"color":"#1a1a1a"},"encoding":{"text":{"field":"panel","type":"nominal"}}},
 {"width":546,"height":190,"data":{"name":"e200"},"mark":{"type":"line","strokeWidth":2.5},"encoding":{
  "x":{"field":"year","type":"quantitative","scale":{"domain":[1997.95,2021.05],"nice":false,"zero":false},"axis":{"title":null,"minExtent":8,"maxExtent":8,"values":[1998,2000,2002,2004,2006,2008,2010,2012,2014,2016,2018,2020],"labels":false,"ticks":false,"gridWidth":{"condition":{"test":"datum.value % 4 == 0","value":1.3},"value":0.6}}},
  "y":{"field":"value","type":"quantitative","scale":{"domain":[46.28,56.18],"nice":false,"zero":false},"axis":{"title":null,"format":"d","values":[47,48,49,50,51,52,53,54,55,56],"labelExpr":"datum.value % 2 == 0 ? datum.label : ''","labelFontSize":{"condition":{"test":"datum.value % 2 == 0","value":29},"value":0},"tickColor":{"condition":{"test":"datum.value % 2 == 0","value":"#333333"},"value":"transparent"},"gridWidth":{"condition":{"test":"datum.value % 2 == 0","value":1.3},"value":0.6}}},
  "color":{"field":"season","type":"nominal","scale":{"domain":["April+Oct","May-Sep","Nov-March"],"range":["#F8766D","#00BA38","#619CFF"]},"legend":{"title":"season"}},
  "strokeDash":{"field":"season","type":"nominal","scale":{"domain":["April+Oct","May-Sep","Nov-March"],"range":[[1,0],[4,7],[11,8]]},"legend":{"title":"season"}}}}
]},
{"bounds":"flush","spacing":0,"vconcat":[
 {"width":546,"height":46,"data":{"values":[{"panel":"e300"}]},"view":{"fill":"#d9d9d9","stroke":"#333333","strokeWidth":1.2},"mark":{"type":"text","fontSize":32,"color":"#1a1a1a"},"encoding":{"text":{"field":"panel","type":"nominal"}}},
 {"width":546,"height":190,"data":{"name":"e300"},"mark":{"type":"line","strokeWidth":2.5},"encoding":{
  "x":{"field":"year","type":"quantitative","scale":{"domain":[1997.95,2021.05],"nice":false,"zero":false},"axis":{"title":null,"minExtent":8,"maxExtent":8,"values":[1998,2000,2002,2004,2006,2008,2010,2012,2014,2016,2018,2020],"labels":false,"ticks":false,"gridWidth":{"condition":{"test":"datum.value % 4 == 0","value":1.3},"value":0.6}}},
  "y":{"field":"value","type":"quantitative","scale":{"domain":[82.81,87.49],"nice":false,"zero":false},"axis":{"title":null,"format":"d","minExtent":58,"maxExtent":58,"values":[83,83.5,84,84.5,85,85.5,86,86.5,87],"labelExpr":"datum.value % 1 == 0 ? datum.label : ''","labelFontSize":{"condition":{"test":"datum.value % 1 == 0","value":29},"value":0},"tickColor":{"condition":{"test":"datum.value % 1 == 0","value":"#333333"},"value":"transparent"},"gridWidth":{"condition":{"test":"datum.value % 1 == 0","value":1.3},"value":0.6}}},
  "color":{"field":"season","type":"nominal","scale":{"domain":["April+Oct","May-Sep","Nov-March"],"range":["#F8766D","#00BA38","#619CFF"]},"legend":{"title":"season"}},
  "strokeDash":{"field":"season","type":"nominal","scale":{"domain":["April+Oct","May-Sep","Nov-March"],"range":[[1,0],[4,7],[11,8]]},"legend":{"title":"season"}}}}
]},
{"bounds":"flush","spacing":0,"vconcat":[
 {"width":546,"height":46,"data":{"values":[{"panel":"T50"}]},"view":{"fill":"#d9d9d9","stroke":"#333333","strokeWidth":1.2},"mark":{"type":"text","fontSize":32,"color":"#1a1a1a"},"encoding":{"text":{"field":"panel","type":"nominal"}}},
 {"width":546,"height":190,"data":{"name":"T50"},"mark":{"type":"line","strokeWidth":2.5},"encoding":{
  "x":{"field":"year","type":"quantitative","scale":{"domain":[1997.95,2021.05],"nice":false,"zero":false},"axis":{"title":null,"format":"d","values":[1998,2000,2002,2004,2006,2008,2010,2012,2014,2016,2018,2020],"labelExpr":"datum.value % 4 == 0 ? datum.label : ''","labelFontSize":{"condition":{"test":"datum.value % 4 == 0","value":29},"value":0},"tickColor":{"condition":{"test":"datum.value % 4 == 0","value":"#333333"},"value":"transparent"},"gridWidth":{"condition":{"test":"datum.value % 4 == 0","value":1.3},"value":0.6}}},
  "y":{"field":"value","type":"quantitative","scale":{"domain":[163.2,218.2],"nice":false,"zero":false},"axis":{"title":null,"format":"d","values":[165,170,175,180,185,190,195,200,205,210,215],"labelExpr":"datum.value % 10 == 0 ? datum.label : ''","labelFontSize":{"condition":{"test":"datum.value % 10 == 0","value":29},"value":0},"tickColor":{"condition":{"test":"datum.value % 10 == 0","value":"#333333"},"value":"transparent"},"gridWidth":{"condition":{"test":"datum.value % 10 == 0","value":1.3},"value":0.6}}},
  "color":{"field":"season","type":"nominal","scale":{"domain":["April+Oct","May-Sep","Nov-March"],"range":["#F8766D","#00BA38","#619CFF"]},"legend":{"title":"season"}},
  "strokeDash":{"field":"season","type":"nominal","scale":{"domain":["April+Oct","May-Sep","Nov-March"],"range":[[1,0],[4,7],[11,8]]},"legend":{"title":"season"}}}}
]},
{"bounds":"flush","spacing":0,"vconcat":[
 {"width":546,"height":46,"data":{"values":[{"panel":"T90"}]},"view":{"fill":"#d9d9d9","stroke":"#333333","strokeWidth":1.2},"mark":{"type":"text","fontSize":32,"color":"#1a1a1a"},"encoding":{"text":{"field":"panel","type":"nominal"}}},
 {"width":546,"height":190,"data":{"name":"T90"},"mark":{"type":"line","strokeWidth":2.5},"encoding":{
  "x":{"field":"year","type":"quantitative","scale":{"domain":[1997.95,2021.05],"nice":false,"zero":false},"axis":{"title":null,"format":"d","values":[1998,2000,2002,2004,2006,2008,2010,2012,2014,2016,2018,2020],"labelExpr":"datum.value % 4 == 0 ? datum.label : ''","labelFontSize":{"condition":{"test":"datum.value % 4 == 0","value":29},"value":0},"tickColor":{"condition":{"test":"datum.value % 4 == 0","value":"#333333"},"value":"transparent"},"gridWidth":{"condition":{"test":"datum.value % 4 == 0","value":1.3},"value":0.6}}},
  "y":{"field":"value","type":"quantitative","scale":{"domain":[311.05,331.95],"nice":false,"zero":false},"axis":{"title":null,"format":"d","minExtent":58,"maxExtent":58,"values":[312.5,315,317.5,320,322.5,325,327.5,330],"labelExpr":"datum.value % 5 == 0 ? datum.label : ''","labelFontSize":{"condition":{"test":"datum.value % 5 == 0","value":29},"value":0},"tickColor":{"condition":{"test":"datum.value % 5 == 0","value":"#333333"},"value":"transparent"},"gridWidth":{"condition":{"test":"datum.value % 5 == 0","value":1.3},"value":0.6}}},
  "color":{"field":"season","type":"nominal","scale":{"domain":["April+Oct","May-Sep","Nov-March"],"range":["#F8766D","#00BA38","#619CFF"]},"legend":{"title":"season"}},
  "strokeDash":{"field":"season","type":"nominal","scale":{"domain":["April+Oct","May-Sep","Nov-March"],"range":[[1,0],[4,7],[11,8]]},"legend":{"title":"season"}}}}
]}
]
}
